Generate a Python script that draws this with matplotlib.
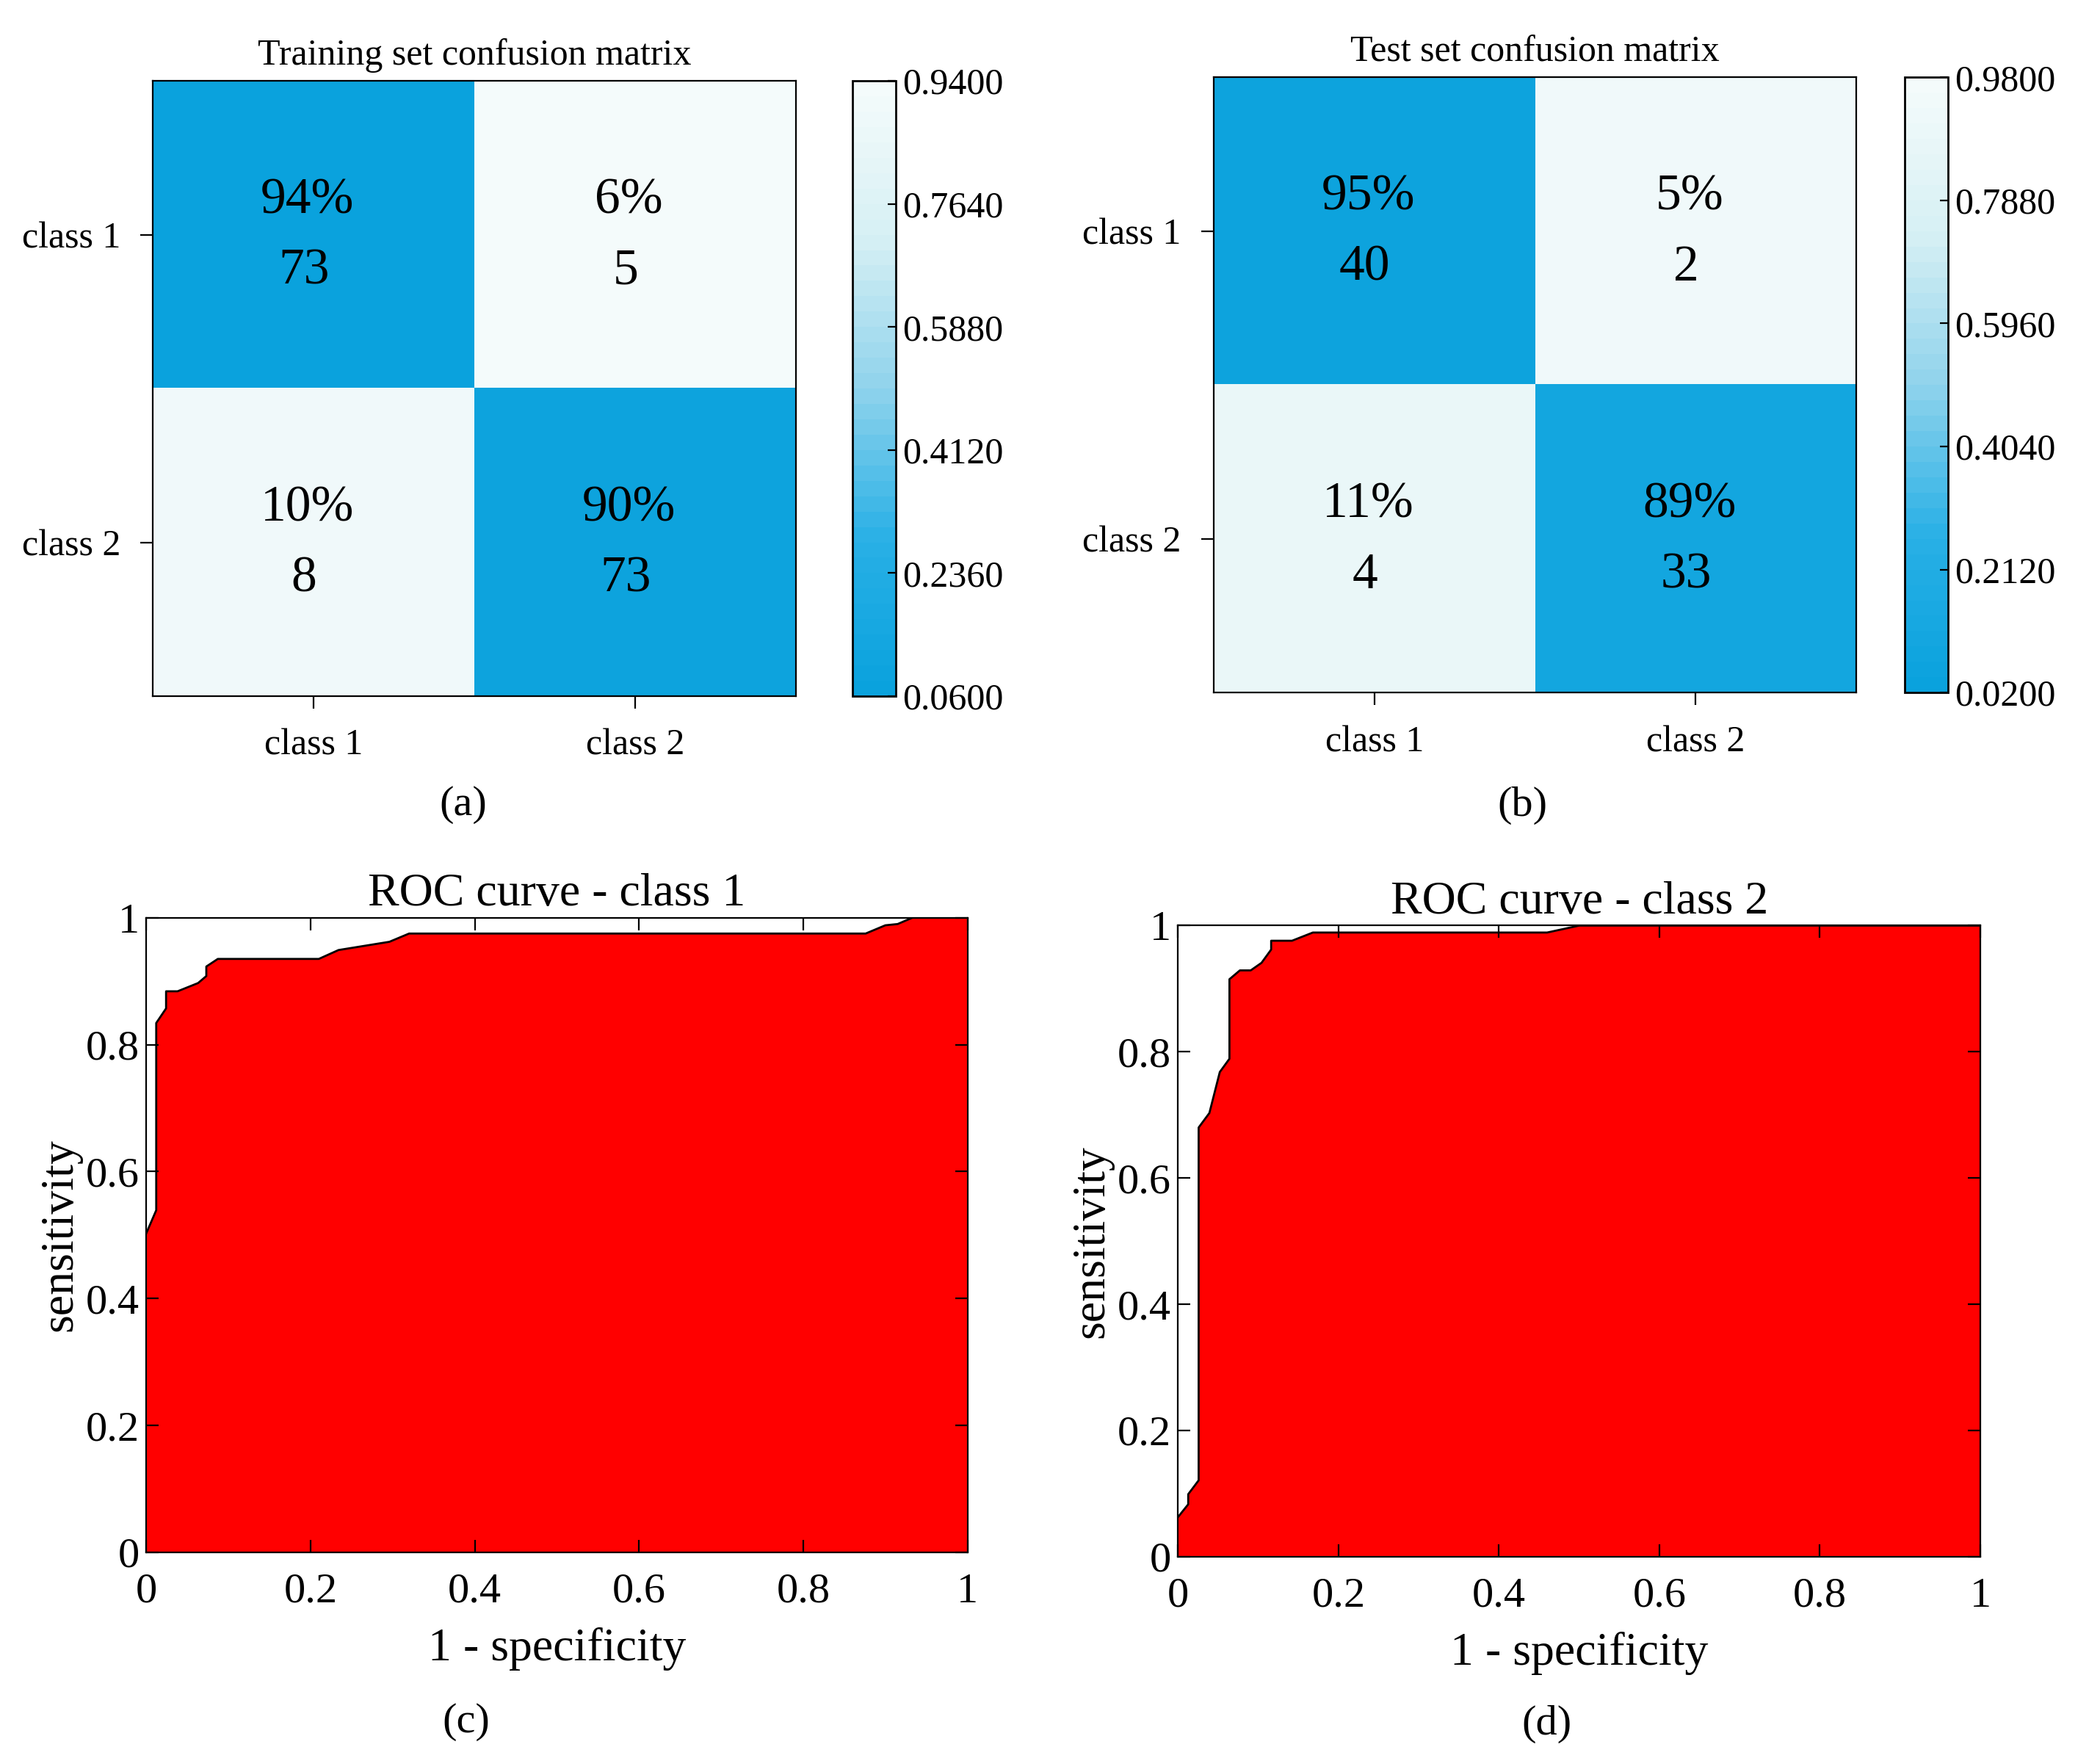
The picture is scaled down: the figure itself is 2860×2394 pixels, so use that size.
import matplotlib
matplotlib.use('Agg')
import matplotlib.pyplot as plt
import numpy as np
from matplotlib.colors import LinearSegmentedColormap

plt.rcParams['font.family'] = ['Liberation Serif', 'DejaVu Serif']

classes = ['class 1', 'class 2']
train_pct = [[0.94, 0.06], [0.10, 0.90]]
train_cnt = [[73, 5], [8, 73]]
test_pct = [[0.95, 0.05], [0.11, 0.89]]
test_cnt = [[40, 2], [4, 33]]
train_range = (0.06, 0.94)
test_range = (0.02, 0.98)

roc1_x = [0, 0.012, 0.012, 0.024, 0.024, 0.038, 0.063, 0.073, 0.073, 0.087, 0.21, 0.234,
          0.296, 0.32, 0.876, 0.9, 0.915, 0.933, 1.0]
roc1_y = [0.503, 0.539, 0.834, 0.857, 0.884, 0.884, 0.897, 0.908, 0.923, 0.935, 0.935, 0.949,
          0.962, 0.975, 0.975, 0.988, 0.99, 1.0, 1.0]
roc2_x = [0, 0.0126, 0.0126, 0.0256, 0.0256, 0.039, 0.052, 0.064, 0.064, 0.077, 0.0905, 0.104,
          0.116, 0.116, 0.142, 0.168, 0.46, 0.50, 1.0]
roc2_y = [0.063, 0.083, 0.099, 0.121, 0.680, 0.703, 0.768, 0.789, 0.915, 0.929, 0.929, 0.941,
          0.962, 0.976, 0.976, 0.989, 0.989, 1.0, 1.0]

# blue at low end, near-white at high end (as in the reference colorbar)
cmap = LinearSegmentedColormap.from_list('cm', ['#0aa2dd', '#29b0e6', '#8fd3ec', '#d6f0f4', '#f4fbfb'], N=40)

fig = plt.figure(figsize=(14.3, 11.97), dpi=200)


def conf_matrix(rect, cbar_rect, pct, cnt, vrange, title):
    ax = fig.add_axes(rect)
    shade = 1 - np.array(pct)
    im = ax.imshow(shade, cmap=cmap, vmin=vrange[0], vmax=vrange[1], aspect='auto')
    for i in range(2):
        for j in range(2):
            ax.text(j - 0.02, i - 0.11, '%d%%' % round(pct[i][j] * 100), ha='center', va='center', fontsize=25)
            ax.text(j - 0.03, i + 0.12, str(cnt[i][j]), ha='center', va='center', fontsize=25)
    ax.set_xticks([0, 1])
    ax.set_yticks([0, 1])
    ax.set_xticklabels(classes, fontsize=18)
    ax.set_yticklabels(classes, fontsize=18)
    ax.tick_params(length=6, direction='out', pad=10)
    ax.set_title(title, fontsize=18, pad=8)
    cax = fig.add_axes(cbar_rect)
    ticks = np.linspace(vrange[0], vrange[1], 6)
    cb = fig.colorbar(im, cax=cax, ticks=ticks)
    cb.ax.set_yticklabels(['%.4f' % t for t in ticks], fontsize=18)
    cb.ax.tick_params(direction='in', length=4)
    cb.outline.set_linewidth(1)
    return ax


conf_matrix([0.0729, 0.604, 0.306, 0.350], [0.406, 0.604, 0.0205, 0.350],
            train_pct, train_cnt, train_range, 'Training set confusion matrix')
conf_matrix([0.578, 0.606, 0.306, 0.350], [0.907, 0.606, 0.0205, 0.350],
            test_pct, test_cnt, test_range, 'Test set confusion matrix')


def roc(rect, xs, ys, title):
    ax = fig.add_axes(rect)
    ax.fill_between(xs, ys, 0, color='#ff0000', edgecolor='none')
    ax.plot(xs, ys, color='black', lw=1)
    ax.set_xlim(0, 1)
    ax.set_ylim(0, 1)
    ax.set_xticks(np.arange(0, 1.01, 0.2))
    ax.set_yticks(np.arange(0, 1.01, 0.2))
    ax.set_xticklabels(['0', '0.2', '0.4', '0.6', '0.8', '1'], fontsize=21)
    ax.set_yticklabels(['0', '0.2', '0.4', '0.6', '0.8', '1'], fontsize=21)
    ax.tick_params(direction='in', top=True, right=True, length=6)
    ax.tick_params(axis='x', pad=10)
    ax.set_xlabel('1 - specificity', fontsize=23, labelpad=8)
    ax.set_ylabel('sensitivity', fontsize=23, labelpad=2)
    ax.set_title(title, fontsize=23, pad=6)
    return ax


roc([0.0697, 0.117, 0.391, 0.361], roc1_x, roc1_y, 'ROC curve - class 1')
roc([0.561, 0.1145, 0.382, 0.359], roc2_x, roc2_y, 'ROC curve - class 2')

for lab, x, y in [('(a)', 345, 600), ('(b)', 1134, 600), ('(c)', 347, 1283), ('(d)', 1152, 1285)]:
    fig.text(x / 1564, 1 - y / 1310, lab, ha='center', va='center', fontsize=21)

fig.savefig('out.png', dpi=200)
